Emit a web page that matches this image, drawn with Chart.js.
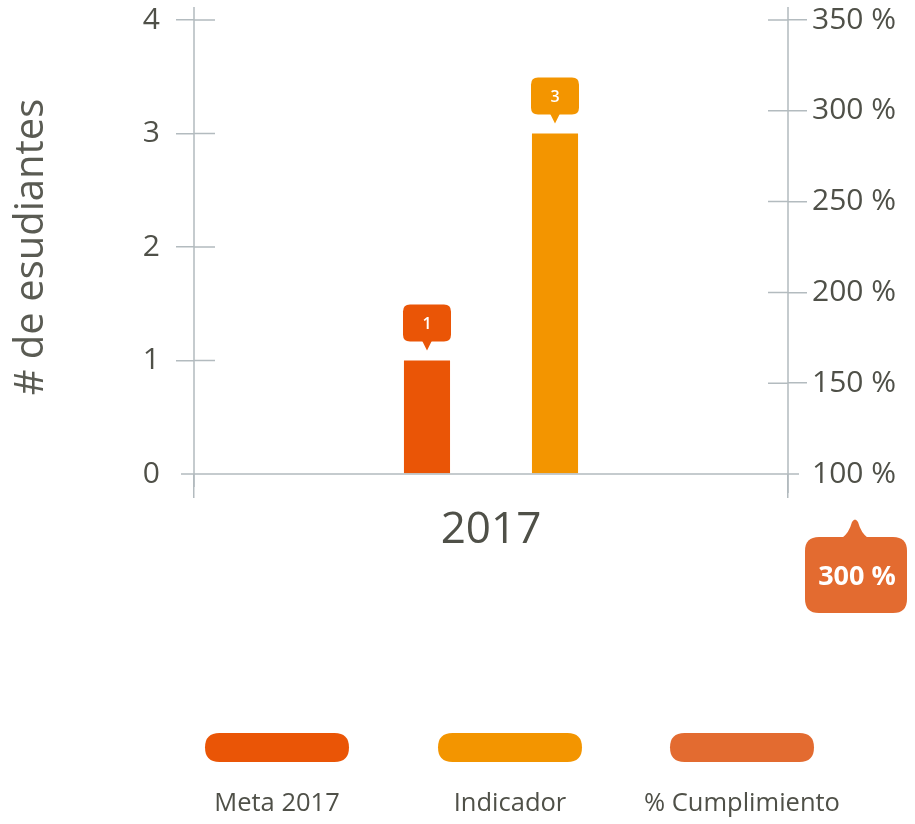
<!DOCTYPE html>
<html>
<head>
<meta charset="utf-8">
<script src="https://cdn.jsdelivr.net/npm/chart.js@4.4.1/dist/chart.umd.min.js"></script>
<style>
  html, body { margin: 0; padding: 0; background: #ffffff; }
  #wrap { width: 915px; height: 824px; }
</style>
</head>
<body>
<div id="wrap"><canvas id="c" width="915" height="824"></canvas></div>
<script>
// Data
const categories = ['2017'];
const metaValues = [1];
const indicadorValues = [3];
const cumplimientoValues = [300];
const studentTicks = [0, 1, 2, 3, 4];
const percentTicks = [100, 150, 200, 250, 300, 350];
const seriesNames = ['Meta 2017', 'Indicador', '% Cumplimiento'];

// Styling
const seriesColors = ['#EA5506', '#F39500', '#E36B30'];
const axisColor = '#B3BBBF';
const textColor = '#4F5048';

Chart.defaults.font.family = "'Open Sans', sans-serif";

function roundedBox(ctx, x, y, w, h, r) {
  ctx.moveTo(x + r, y);
  ctx.lineTo(x + w - r, y);
  ctx.quadraticCurveTo(x + w, y, x + w, y + r);
  ctx.lineTo(x + w, y + h - r);
  ctx.quadraticCurveTo(x + w, y + h, x + w - r, y + h);
  ctx.lineTo(x + r, y + h);
  ctx.quadraticCurveTo(x, y + h, x, y + h - r);
  ctx.lineTo(x, y + r);
  ctx.quadraticCurveTo(x, y, x + r, y);
}

// Axis lines that run past the plot area, plus inner tick halves
const axisLines = {
  id: 'axisLines',
  afterDraw(chart) {
    const { ctx, chartArea: a, scales } = chart;
    ctx.save();
    ctx.strokeStyle = axisColor;
    ctx.lineWidth = 1.5;
    ctx.beginPath();
    ctx.moveTo(a.left, a.top - 13); ctx.lineTo(a.left, a.bottom + 13);
    ctx.moveTo(a.right, a.top - 13); ctx.lineTo(a.right, a.bottom + 19);
    ctx.moveTo(a.left - 13, a.bottom); ctx.lineTo(a.right + 11, a.bottom);
    scales.y.ticks.forEach(t => {
      if (t.value === scales.y.min) return;
      const py = scales.y.getPixelForValue(t.value);
      ctx.moveTo(a.left, py); ctx.lineTo(a.left + 21, py);
    });
    scales.y1.ticks.forEach(t => {
      if (t.value === scales.y1.min) return;
      const py = scales.y1.getPixelForValue(t.value);
      ctx.moveTo(a.right - 20, py); ctx.lineTo(a.right, py);
    });
    ctx.stroke();
    ctx.restore();
  }
};

// Value bubbles above each bar
const barBubbles = {
  id: 'barBubbles',
  afterDatasetsDraw(chart) {
    const { ctx } = chart;
    ctx.save();
    chart.data.datasets.forEach((ds, i) => {
      const meta = chart.getDatasetMeta(i);
      meta.data.forEach((bar, j) => {
        const w = 48, h = 37, gap = 19;
        const x = bar.x - w / 2, y = bar.y - gap - h;
        ctx.fillStyle = ds.backgroundColor;
        ctx.beginPath();
        roundedBox(ctx, x, y, w, h, 7);
        ctx.fill();
        ctx.beginPath();
        ctx.moveTo(bar.x - 5, y + h - 1);
        ctx.lineTo(bar.x, y + h + 9);
        ctx.lineTo(bar.x + 5, y + h - 1);
        ctx.closePath();
        ctx.fill();
        ctx.fillStyle = '#ffffff';
        ctx.font = "600 16px 'Open Sans'";
        ctx.textAlign = 'center';
        ctx.textBaseline = 'middle';
        ctx.fillText(String(ds.data[j]), bar.x, y + h / 2 + 1);
      });
    });
    ctx.restore();
  }
};

// Compliance bubble under the right axis
const complianceBubble = {
  id: 'complianceBubble',
  afterDraw(chart) {
    const { ctx, chartArea: a } = chart;
    const tipX = a.right + 67, tipY = a.bottom + 44;
    const x = tipX - 50, y = tipY + 19, w = 102, h = 76;
    ctx.save();
    ctx.fillStyle = seriesColors[2];
    ctx.beginPath();
    roundedBox(ctx, x, y, w, h, 14);
    ctx.fill();
    ctx.beginPath();
    ctx.moveTo(tipX - 13, y + 1);
    ctx.quadraticCurveTo(tipX - 6, y - 4, tipX - 3, y - 15);
    ctx.quadraticCurveTo(tipX, y - 20, tipX + 3, y - 15);
    ctx.quadraticCurveTo(tipX + 6, y - 4, tipX + 13, y + 1);
    ctx.closePath();
    ctx.fill();
    ctx.fillStyle = '#ffffff';
    ctx.font = "bold 27px 'Open Sans'";
    ctx.textAlign = 'center';
    ctx.textBaseline = 'middle';
    ctx.fillText(cumplimientoValues[0] + ' %', x + w / 2 + 1, y + h / 2 + 2);
    ctx.restore();
  }
};

// Legend: rounded swatches with the series name underneath
const pillLegend = {
  id: 'pillLegend',
  afterDraw(chart) {
    const { ctx } = chart;
    const centers = [277, 510, 742];
    ctx.save();
    seriesNames.forEach((name, i) => {
      const cx = centers[i];
      ctx.fillStyle = seriesColors[i];
      ctx.beginPath();
      roundedBox(ctx, cx - 72, 733, 144, 29, 14.5);
      ctx.fill();
      ctx.fillStyle = textColor;
      ctx.font = "25.5px 'Open Sans'";
      ctx.textAlign = 'center';
      ctx.textBaseline = 'middle';
      ctx.fillText(name, cx, 804);
    });
    ctx.restore();
  }
};

const hideFirstTick = (c) => (c.index === 0 ? 'rgba(0,0,0,0)' : axisColor);
const fitVertical = (w) => (s) => { s.width = w; s.paddingTop = 0; s.paddingBottom = 0; };

new Chart(document.getElementById('c'), {
  type: 'bar',
  data: {
    labels: categories,
    datasets: [
      { label: seriesNames[0], data: metaValues, backgroundColor: seriesColors[0], yAxisID: 'y' },
      { label: seriesNames[1], data: indicadorValues, backgroundColor: seriesColors[1], yAxisID: 'y' }
    ]
  },
  options: {
    responsive: false,
    animation: false,
    devicePixelRatio: 1,
    categoryPercentage: 0.431,
    barPercentage: 0.36,
    layout: { padding: { top: 20, left: 0, right: 0, bottom: 0 } },
    plugins: { legend: { display: false }, tooltip: { enabled: false } },
    scales: {
      x: {
        offset: true,
        afterFit: (s) => { s.height = 350; s.paddingLeft = 0; s.paddingRight = 0; },
        border: { display: false },
        grid: { drawOnChartArea: false, tickLength: 24, lineWidth: 1.5, color: axisColor },
        ticks: { color: textColor, font: { size: 44 }, padding: 6 }
      },
      y: {
        position: 'left',
        min: studentTicks[0],
        max: studentTicks[studentTicks.length - 1],
        afterFit: fitVertical(194),
        border: { display: false },
        grid: { drawOnChartArea: false, tickLength: 18, lineWidth: 1.5, color: hideFirstTick },
        ticks: { stepSize: studentTicks[1] - studentTicks[0], color: textColor, font: { size: 30 }, padding: 16 },
        title: { display: true, text: '# de esudiantes', color: '#5A5B53', font: { size: 40 }, padding: { top: 8, bottom: 0 } }
      },
      y1: {
        position: 'right',
        min: percentTicks[0],
        max: percentTicks[percentTicks.length - 1],
        afterFit: fitVertical(127),
        border: { display: false },
        grid: { drawOnChartArea: false, tickLength: 19, lineWidth: 1.5, color: hideFirstTick },
        ticks: { stepSize: percentTicks[1] - percentTicks[0], color: textColor, font: { size: 30 }, padding: 5,
                 callback: (v) => v + ' %' }
      }
    }
  },
  plugins: [axisLines, barBubbles, complianceBubble, pillLegend]
});
</script>
</body>
</html>
